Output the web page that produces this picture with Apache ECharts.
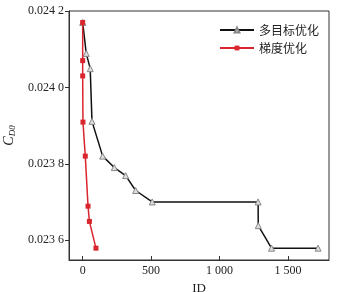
<!DOCTYPE html>
<html><head><meta charset="utf-8">
<script src="https://cdn.jsdelivr.net/npm/echarts@6/dist/echarts.min.js"></script>
<style>html,body{margin:0;padding:0;background:#fff}#c{width:338px;height:292px}</style>
</head><body><div id="c"></div>
<script>
const seriesNames = ['多目标优化', '梯度优化'];
const multiObjX = [0, 26, 55, 68, 146, 231, 314, 387, 508, 1282, 1283, 1380, 1720];
const multiObjY = [0.02417, 0.024089, 0.024049, 0.023911, 0.02382, 0.02379, 0.023769, 0.02373, 0.0237, 0.0237, 0.023638, 0.023579, 0.023579];
const gradX = [0, 0, 0, 2, 19, 39, 49, 97];
const gradY = [0.02417, 0.02407, 0.02403, 0.023909, 0.02382, 0.023689, 0.023649, 0.023579];
const xTicks = [0, 500, 1000, 1500];
const yTicks = [0.0236, 0.0238, 0.0240, 0.0242];

const fmtX = v => { const s = String(Math.round(v)); return s.length > 3 ? s.slice(0, s.length-3) + ' ' + s.slice(-3) : s; };
const fmtY = v => { const s = v.toFixed(4); return s.slice(0, 5) + ' ' + s.slice(5); };
const serif = '"Liberation Serif", "Times New Roman", serif';

const chart = echarts.init(document.getElementById('c'));
chart.setOption({
  animation: false,
  backgroundColor: '#fff',
  grid: { left: 69, top: 11, right: 9, bottom: 32, show: true, borderColor: '#333', borderWidth: 1, containLabel: false, outerBoundsMode: 'none' },
  legend: {
    right: 14, top: 19, orient: 'vertical', itemWidth: 34, itemHeight: 6, itemGap: 6,
    textStyle: { fontFamily: '"Noto Sans CJK SC", sans-serif', fontSize: 12, color: '#222' },
    data: seriesNames
  },
  xAxis: {
    type: 'value', min: -100, max: 1800,
    name: 'ID', nameLocation: 'middle', nameGap: 19,
    nameTextStyle: { fontFamily: serif, fontSize: 13, color: '#222' },
    axisLine: { onZero: false, lineStyle: { color: '#333', width: 1 } },
    axisTick: { inside: true, length: 4, customValues: xTicks, lineStyle: { color: '#333' } },
    axisLabel: { customValues: xTicks, formatter: fmtX, fontFamily: serif, fontSize: 12, color: '#222', margin: 5 },
    splitLine: { show: false }
  },
  yAxis: {
    type: 'value', min: 0.023548, max: 0.0242,
    name: '{i|C}{s|D0}', nameLocation: 'middle', nameGap: 50, nameRotate: 90,
    nameTextStyle: { rich: {
      i: { fontFamily: serif, fontStyle: 'italic', fontSize: 14, color: '#222' },
      s: { fontFamily: serif, fontStyle: 'italic', fontSize: 9, color: '#222', verticalAlign: 'bottom', padding: [6, 0, 0, 0] }
    } },
    axisLine: { onZero: false, lineStyle: { color: '#333', width: 1 } },
    axisTick: { inside: false, length: 4, customValues: yTicks, lineStyle: { color: '#333' } },
    axisLabel: { customValues: yTicks, formatter: fmtY, fontFamily: serif, fontSize: 12, color: '#222', margin: 5 },
    splitLine: { show: false }
  },
  series: [
    {
      name: seriesNames[0], type: 'line',
      data: multiObjX.map((x, i) => [x, multiObjY[i]]),
      symbol: 'triangle', symbolSize: 6, showAllSymbol: true,
      lineStyle: { color: '#111', width: 1.5 },
      itemStyle: { color: '#ddd', borderColor: '#888', borderWidth: 1 },
      z: 2
    },
    {
      name: seriesNames[1], type: 'line',
      data: gradX.map((x, i) => [x, gradY[i]]),
      symbol: 'rect', symbolSize: 5, showAllSymbol: true,
      lineStyle: { color: '#d9262e', width: 1.5 },
      itemStyle: { color: '#d9262e', borderColor: '#d9262e', borderWidth: 0 },
      z: 3
    }
  ]
});
</script></body></html>
